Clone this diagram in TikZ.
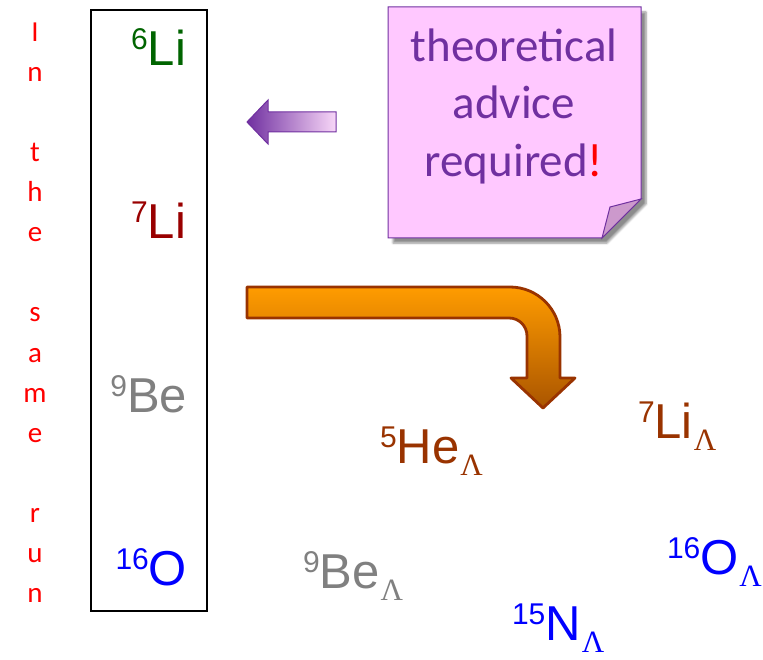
\documentclass[tikz,border=0pt]{standalone}
\usepackage{fontspec}
\setmainfont{Liberation Sans}
\newfontfamily\calfont{Carlito}
\newfontfamily\tmsfont{Liberation Serif}
\usetikzlibrary{shadows.blur}
\definecolor{lgreen}{RGB}{0,100,0}
\definecolor{lred}{RGB}{153,0,0}
\definecolor{lgray}{RGB}{128,128,128}
\definecolor{lblue}{RGB}{0,0,255}
\definecolor{lbrown}{RGB}{153,51,0}
\definecolor{npurple}{RGB}{112,48,160}
\definecolor{npink}{RGB}{255,200,255}
\definecolor{nfold}{RGB}{204,153,204}
\definecolor{aorange}{RGB}{255,156,0}
\definecolor{adark}{RGB}{170,85,0}
\newcommand\boxiso[2]{\fontsize{49}{49}\selectfont\raisebox{16pt}{\fontsize{30}{30}\selectfont #1}#2}
\newcommand\hypiso[2]{\fontsize{49}{49}\selectfont\raisebox{16pt}{\fontsize{30}{30}\selectfont #1}#2\hspace{1pt}\raisebox{-12pt}{\tmsfont\fontsize{31}{31}\selectfont Λ}}
\begin{document}
\begin{tikzpicture}[x=1pt,y=-1pt,
  lab/.style={inner sep=0pt, outer sep=0pt},
  runletter/.style={inner sep=0pt, anchor=base, text=red, font=\calfont\fontsize{29}{29}\selectfont},
  notetext/.style={inner sep=0pt, anchor=base, text=npurple, font=\calfont\fontsize{47}{47}\selectfont}]
\useasboundingbox (0,0) rectangle (763,660);
% vertical text
\foreach \c [count=\k from 0] in {I,n,{},t,h,e,{},s,a,m,e,{},r,u,n}{
  \node[runletter] (run\k) at (35,{42+40*\k}) {\c};
}
% box
\draw[line width=1.4pt] (91,10) rectangle (207,611);
\node[lab, anchor=base east, text=lgreen] (li6) at (186,66) {\boxiso{6}{Li}};
\node[lab, anchor=base east, text=lred] (li7) at (186,239) {\boxiso{7}{Li}};
\node[lab, anchor=base east, text=lgray] (be9) at (187,412) {\boxiso{9}{Be}};
\node[lab, anchor=base east, text=lblue] (o16) at (187,585) {\boxiso{16}{O}};
% hypernuclei
\node[lab, anchor=base west, text=lbrown] (he5l) at (380,463) {\hypiso{5}{He}};
\node[lab, anchor=base west, text=lbrown] (li7l) at (638,438) {\hypiso{7}{Li}};
\node[lab, anchor=base west, text=lblue] (o16l) at (667,574) {\hypiso{16}{O}};
\node[lab, anchor=base west, text=lgray] (be9l) at (303,588) {\hypiso{9}{Be}};
\node[lab, anchor=base west, text=lblue] (n15l) at (512,640) {\hypiso{15}{N}};
% sticky note
\path[blur shadow={shadow xshift=5pt, shadow yshift=-5pt, shadow blur steps=6, shadow opacity=45}]
  (388,7) -- (641,7) -- (641,199) -- (602,238) -- (388,238) -- cycle;
\draw[npurple, line width=1pt, fill=npink] (388,7) -- (641,7) -- (641,199) -- (602,238) -- (388,238) -- cycle;
\draw[npurple, line width=1pt, fill=nfold] (641,199) -- (610,207) -- (602,238) -- cycle;
\node[notetext] (t1) at (514,62) {theoretical};
\node[notetext] (t2) at (514,119) {advice};
\node[notetext] (t3) at (514,177) {required\textcolor{red}{!}};
% purple arrow
\draw[npurple, line width=1pt, left color=npurple, right color={rgb,255:red,248;green,215;blue,248}]
  (247,122) -- (268,100) -- (268,112) -- (336,112) -- (336,132) -- (268,132) -- (268,144) -- cycle;
% bent orange arrow
\draw[lbrown, line width=2.8pt, line join=round, top color=aorange, bottom color=adark]
  (247,287) -- (510,287) .. controls (537.6,287) and (560,309.4) .. (560,337)
  -- (560,378) -- (575,378) -- (543,408) -- (511,378) -- (527,378) -- (527,336)
  .. controls (527,326) and (519,318) .. (509,318) -- (247,318) -- cycle;
\end{tikzpicture}
\end{document}
